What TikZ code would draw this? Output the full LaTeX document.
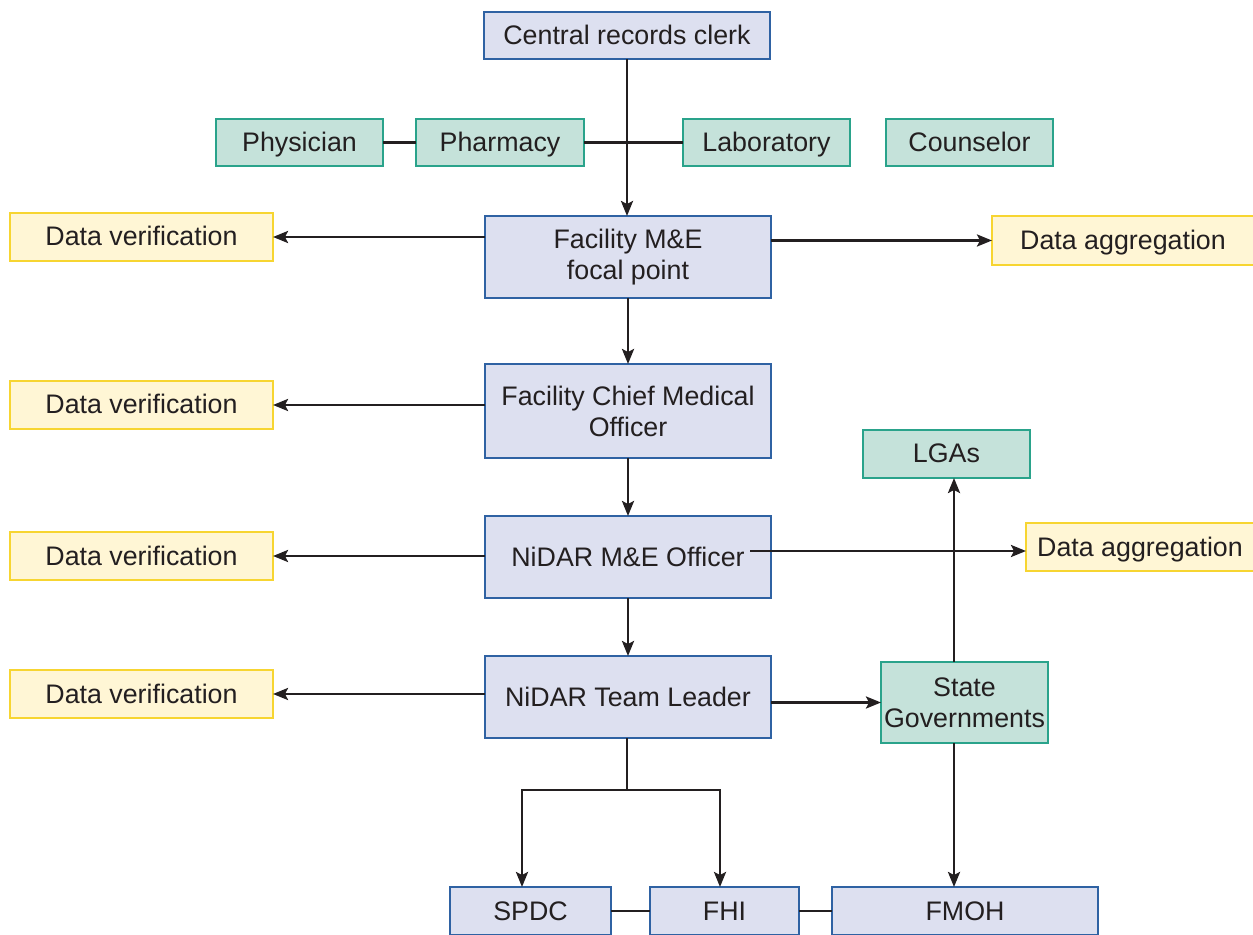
\documentclass[tikz,border=0pt]{standalone}
\usepackage{fontspec}
\setmainfont{Liberation Sans}
\usetikzlibrary{arrows.meta,calc}
\definecolor{bluefill}{HTML}{DDE0F0}
\definecolor{blueline}{HTML}{2F62A3}
\definecolor{greenfill}{HTML}{C5E2DA}
\definecolor{greenline}{HTML}{2AA38B}
\definecolor{yellowfill}{HTML}{FFF6D5}
\definecolor{yellowline}{HTML}{F7D531}
\definecolor{ink}{HTML}{231F20}
\tikzset{
  box/.style={rectangle, inner sep=0pt, outer sep=0pt, line width=0.75pt, text=ink,
    align=center, font=\fontsize{13.4}{15.5}\selectfont},
  one/.style={text height=9.6pt, text depth=0.6pt},
  bluebox/.style={box, draw=blueline, fill=bluefill},
  greenbox/.style={box, draw=greenline, fill=greenfill},
  yellowbox/.style={box, draw=yellowline, fill=yellowfill},
  conn/.style={draw=ink, line width=1.3pt},
  arr/.style={conn, -{Stealth[length=7.5pt,width=6pt,inset=1.5pt]}},
}
\begin{document}
\begin{tikzpicture}[x=0.5pt,y=-0.5pt]
\useasboundingbox (0,0) rectangle (1253,935);
\clip (0,0) rectangle (1253,935);
% top
\node[bluebox, one, minimum width=143pt, minimum height=23.5pt] (clerk) at (627,35.5) {Central records clerk};
\node[greenbox, one, minimum width=83.5pt, minimum height=23.5pt] (phys) at (299.5,142.5) {Physician};
\node[greenbox, one, minimum width=84pt, minimum height=23.5pt] (pharm) at (500,142.5) {Pharmacy};
\node[greenbox, one, minimum width=83.5pt, minimum height=23.5pt] (lab) at (766.5,142.5) {Laboratory};
\node[greenbox, one, minimum width=83.5pt, minimum height=23.5pt] (couns) at (969.5,142.5) {Counselor};
% main column
\node[bluebox, minimum width=143pt, minimum height=41pt] (focal) at (628,257) {Facility M\&E\\focal point};
\node[bluebox, minimum width=143pt, minimum height=47pt] (cmo) at (628,411) {Facility Chief Medical\\Officer};
\node[bluebox, one, minimum width=143pt, minimum height=41pt] (nme) at (628,557) {NiDAR M\&E Officer};
\node[bluebox, one, minimum width=143pt, minimum height=41pt] (ntl) at (628,697) {NiDAR Team Leader};
% verification
\node[yellowbox, one, minimum width=131.5pt, minimum height=24pt] (dv1) at (141.5,237) {Data verification};
\node[yellowbox, one, minimum width=131.5pt, minimum height=24pt] (dv2) at (141.5,405) {Data verification};
\node[yellowbox, one, minimum width=131.5pt, minimum height=24pt] (dv3) at (141.5,556) {Data verification};
\node[yellowbox, one, minimum width=131.5pt, minimum height=24pt] (dv4) at (141.5,694) {Data verification};
% aggregation
\node[yellowbox, one, minimum width=131pt, minimum height=24.5pt] (da1) at (1123,240.5) {Data aggregation};
\node[yellowbox, one, minimum width=114pt, minimum height=24pt] (da2) at (1140,547) {Data aggregation};
% right
\node[greenbox, one, minimum width=83.5pt, minimum height=24pt] (lga) at (946.5,454) {LGAs};
\node[greenbox, minimum width=83.5pt, minimum height=40.5pt] (sg) at (964.5,702.5) {State\\Governments};
% bottom
\node[bluebox, one, minimum width=80.5pt, minimum height=24pt] (spdc) at (530.5,911) {SPDC};
\node[bluebox, one, minimum width=74.5pt, minimum height=24pt] (fhi) at (724.5,911) {FHI};
\node[bluebox, one, minimum width=133pt, minimum height=24pt] (fmoh) at (965,911) {FMOH};
\coordinate (nmeo) at (750,551);
\coordinate (split) at (627,790);
% connectors
\draw[conn] (phys.east) -- (pharm.west);
\draw[conn] (pharm.east) -- (lab.west);
\draw[arr] (clerk.south) -- (clerk.south |- focal.north);
\draw[arr] (dv1.east -| focal.west) -- (dv1.east);
\draw[arr] (da1.west -| focal.east) -- (da1.west);
\draw[arr] (focal.south) -- (cmo.north);
\draw[arr] (dv2.east -| cmo.west) -- (dv2.east);
\draw[arr] (cmo.south) -- (nme.north);
\draw[arr] (dv3.east -| nme.west) -- (dv3.east);
\draw[arr] (nmeo) -- (nmeo -| da2.west);
\draw[arr] (nme.south) -- (ntl.north);
\draw[arr] (dv4.east -| ntl.west) -- (dv4.east);
\draw[arr] (sg.west -| ntl.east) -- (sg.west);
\draw[arr] ([xshift=-5.25pt]sg.north) -- ([xshift=-5.25pt]sg.north |- lga.south);
\draw[arr] ([xshift=-5.25pt]sg.south) -- ([xshift=-5.25pt]sg.south |- fmoh.north);
\draw[conn] (ntl.south -| split) -- (split);
\draw[arr] (split) -| ([xshift=-4.25pt]spdc.north);
\draw[arr] (split) -| ([xshift=-2.25pt]fhi.north);
\draw[conn] (spdc.east) -- (fhi.west);
\draw[conn] (fhi.east) -- (fmoh.west);
\end{tikzpicture}
\end{document}
